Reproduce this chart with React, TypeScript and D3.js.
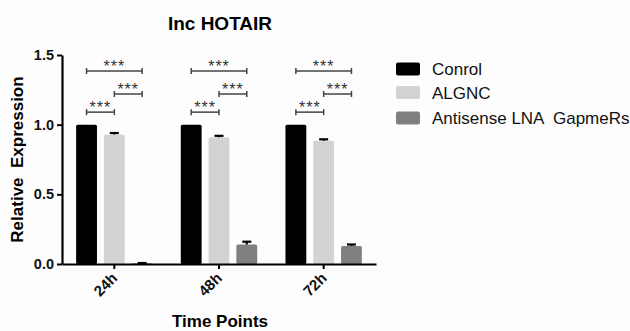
import { useEffect, useRef } from 'react';
import * as d3 from 'd3';

// data
const timePoints = ['24h', '48h', '72h'];
const seriesNames = ['Conrol', 'ALGNC', 'Antisense LNA  GapmeRs'];
const seriesColors = ['#000000', '#d3d3d3', '#808080'];

const controlValues = [1.0, 1.0, 1.0];
const controlErrors = [0, 0, 0];
const algncValues = [0.93, 0.91, 0.885];
const algncErrors = [0.01, 0.01, 0.01];
const gapmerValues = [0.005, 0.14, 0.13];
const gapmerErrors = [0.002, 0.02, 0.01];

const yTicks = [0, 0.5, 1.0, 1.5];

// significance brackets per time point: [from series, to series, level]
const sigPairs: [number, number, number][] = [
  [0, 1, 1.09],
  [1, 2, 1.22],
  [0, 2, 1.385],
];

const App = () => {
  const svgRef = useRef<SVGSVGElement | null>(null);

  useEffect(() => {
    const svg = d3.select(svgRef.current);
    svg.selectAll('*').remove();

    const width = 630;
    const height = 331;
    const margin = { top: 55, right: 254, bottom: 67, left: 62 };
    const font = 'Liberation Sans, Arial, sans-serif';

    svg.append('rect').attr('width', width).attr('height', height).attr('fill', '#fdfdfd');

    const values = [controlValues, algncValues, gapmerValues];
    const errors = [controlErrors, algncErrors, gapmerErrors];

    const x0 = d3
      .scaleBand()
      .domain(timePoints)
      .range([margin.left, width - margin.right])
      .paddingInner(0.27)
      .paddingOuter(0.135);

    const x1 = d3
      .scaleBand()
      .domain(seriesNames)
      .range([0, x0.bandwidth()])
      .paddingInner(0.25);

    const y = d3
      .scaleLinear()
      .domain([0, 1.5])
      .range([height - margin.bottom, margin.top]);

    // bars
    seriesNames.forEach((name, si) => {
      svg
        .append('g')
        .selectAll('rect')
        .data(timePoints)
        .enter()
        .append('rect')
        .attr('x', (t) => (x0(t) as number) + (x1(name) as number))
        .attr('y', (t, i) => y(values[si][i]))
        .attr('width', x1.bandwidth())
        .attr('height', (t, i) => y(0) - y(values[si][i]))
        .attr('rx', 1.5)
        .attr('fill', seriesColors[si]);

      // error bars (upper only)
      const eb = svg.append('g').attr('stroke', '#000').attr('stroke-width', 2.2);
      timePoints.forEach((t, i) => {
        if (errors[si][i] <= 0) return;
        const cx = (x0(t) as number) + (x1(name) as number) + x1.bandwidth() / 2;
        eb.append('line')
          .attr('x1', cx)
          .attr('x2', cx)
          .attr('y1', y(values[si][i]))
          .attr('y2', y(values[si][i] + errors[si][i]));
        eb.append('line')
          .attr('x1', cx - 4.5)
          .attr('x2', cx + 4.5)
          .attr('y1', y(values[si][i] + errors[si][i]))
          .attr('y2', y(values[si][i] + errors[si][i]));
      });
    });

    // significance brackets
    const sig = svg.append('g');
    timePoints.forEach((t) => {
      sigPairs.forEach(([a, b, level]) => {
        const xa = (x0(t) as number) + (x1(seriesNames[a]) as number) + x1.bandwidth() / 2;
        const xb = (x0(t) as number) + (x1(seriesNames[b]) as number) + x1.bandwidth() / 2;
        const yy = y(level);
        const g = sig.append('g').attr('stroke', '#444').attr('stroke-width', 1.5);
        g.append('line').attr('x1', xa).attr('x2', xb).attr('y1', yy).attr('y2', yy);
        g.append('line').attr('x1', xa).attr('x2', xa).attr('y1', yy - 3).attr('y2', yy + 3);
        g.append('line').attr('x1', xb).attr('x2', xb).attr('y1', yy - 3).attr('y2', yy + 3);
        sig
          .append('text')
          .attr('x', (xa + xb) / 2)
          .attr('y', yy + 1)
          .attr('text-anchor', 'middle')
          .style('font-family', font)
          .style('font-size', '16px')
          .style('letter-spacing', '1px')
          .attr('fill', '#333')
          .text('***');
      });
    });

    // y axis
    const yAxis = svg
      .append('g')
      .attr('transform', `translate(${margin.left},0)`)
      .call(
        d3
          .axisLeft(y)
          .tickValues(yTicks)
          .tickFormat(d3.format('.1f'))
          .tickSize(5)
          .tickSizeOuter(0)
      );
    yAxis.select('.domain').attr('stroke', '#000').attr('stroke-width', 2.2);
    yAxis.selectAll('.tick line').attr('stroke', '#000').attr('stroke-width', 2);
    yAxis
      .selectAll('.tick text')
      .attr('x', -8)
      .style('font-family', font)
      .style('font-size', '14.5px')
      .style('font-weight', 'bold')
      .attr('fill', '#111');

    // x axis
    const xAxis = svg
      .append('g')
      .attr('transform', `translate(0,${height - margin.bottom})`)
      .call(d3.axisBottom(x0).tickSize(5).tickSizeOuter(0));
    xAxis.select('.domain').attr('stroke', '#000').attr('stroke-width', 2.2);
    xAxis.selectAll('.tick line').attr('stroke', '#000').attr('stroke-width', 2);
    xAxis
      .selectAll('.tick text')
      .attr('y', 0)
      .attr('dy', 0)
      .attr('transform', 'translate(4,15) rotate(-45)')
      .attr('text-anchor', 'end')
      .style('font-family', font)
      .style('font-size', '15px')
      .style('font-weight', 'bold')
      .attr('fill', '#111');

    // title and axis labels
    svg
      .append('text')
      .attr('x', 220)
      .attr('y', 30)
      .attr('text-anchor', 'middle')
      .style('font-family', font)
      .style('font-size', '19px')
      .style('font-weight', 'bold')
      .text('Inc HOTAIR');

    svg
      .append('text')
      .attr('transform', `translate(23,${y(0.75)}) rotate(-90)`)
      .attr('text-anchor', 'middle')
      .style('font-family', font)
      .style('font-size', '17px')
      .style('font-weight', 'bold')
      .style('white-space', 'pre')
      .text('Relative  Expression');

    svg
      .append('text')
      .attr('x', 220)
      .attr('y', 327)
      .attr('text-anchor', 'middle')
      .style('font-family', font)
      .style('font-size', '17px')
      .style('font-weight', 'bold')
      .text('Time Points');

    // legend
    const legendY = [69, 92.5, 118];
    const legend = svg.append('g');
    seriesNames.forEach((name, i) => {
      legend
        .append('rect')
        .attr('x', 396)
        .attr('y', legendY[i] - 6.5)
        .attr('width', 24)
        .attr('height', 13)
        .attr('rx', 2)
        .attr('fill', seriesColors[i]);
      legend
        .append('text')
        .attr('x', 432)
        .attr('y', legendY[i] + 6)
        .style('font-family', font)
        .style('font-size', '17px')
        .style('white-space', 'pre')
        .attr('fill', '#111')
        .text(name);
    });
  }, []);

  return (
    <svg
      ref={svgRef}
      width={630}
      height={331}
      style={{ position: 'absolute', left: 0, top: 0, display: 'block' }}
    />
  );
};

export default App;
